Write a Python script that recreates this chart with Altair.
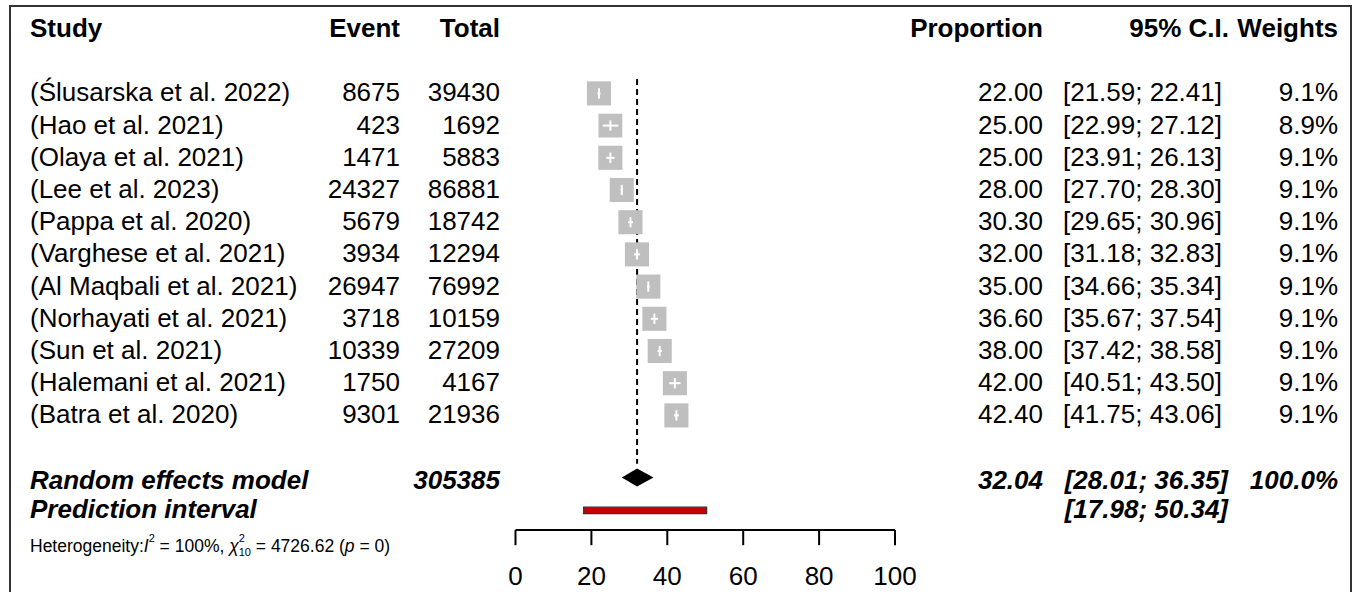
import altair as alt
import pandas as pd

# ---- study-level data -------------------------------------------------------
studies = [
    "(Ślusarska et al. 2022)", "(Hao et al. 2021)", "(Olaya et al. 2021)",
    "(Lee et al. 2023)", "(Pappa et al. 2020)", "(Varghese et al. 2021)",
    "(Al Maqbali et al. 2021)", "(Norhayati et al. 2021)", "(Sun et al. 2021)",
    "(Halemani et al. 2021)", "(Batra et al. 2020)",
]
events = [8675, 423, 1471, 24327, 5679, 3934, 26947, 3718, 10339, 1750, 9301]
totals = [39430, 1692, 5883, 86881, 18742, 12294, 76992, 10159, 27209, 4167, 21936]
props = [22.00, 25.00, 25.00, 28.00, 30.30, 32.00, 35.00, 36.60, 38.00, 42.00, 42.40]
ci_lo = [21.59, 22.99, 23.91, 27.70, 29.65, 31.18, 34.66, 35.67, 37.42, 40.51, 41.75]
ci_hi = [22.41, 27.12, 26.13, 28.30, 30.96, 32.83, 35.34, 37.54, 38.58, 43.50, 43.06]
weights = [9.1, 8.9, 9.1, 9.1, 9.1, 9.1, 9.1, 9.1, 9.1, 9.1, 9.1]

# ---- pooled estimates -------------------------------------------------------
re_total = 305385
re_est, re_lo, re_hi = 32.04, 28.01, 36.35
pi_lo, pi_hi = 17.98, 50.34
i2, q_df, q_stat, q_p = 100, 10, 4726.62, 0
axis_ticks = [0, 20, 40, 60, 80, 100]

# ---- row layout (in text lines) --------------------------------------------
LINE_HEADER = 0.0
study_lines = [2 + i for i in range(len(studies))]
LINE_RE = 14.04
LINE_DIAMOND = 13.93
LINE_PI = 14.95
LINE_AXIS = 15.56
LINE_TICK_END = 16.03
LINE_TICK_LABEL = 17.02
LINE_HET = 16.1

FONT = "Liberation Sans"
FS = 26
W, H = 1356, 592

xscale = alt.Scale(domain=[0, 100], range=[515.5, 895], nice=False, zero=False)
yscale = alt.Scale(domain=[0, 17], range=[29, 29 + 17 * 32.2], nice=False, zero=False)


def X(field):
    return alt.X(field, type="quantitative", scale=xscale, axis=None)


def Y(field):
    return alt.Y(field, type="quantitative", scale=yscale, axis=None)


rows = pd.DataFrame({
    "line": study_lines,
    "study": studies,
    "event": [str(v) for v in events],
    "total": [str(v) for v in totals],
    "prop": props,
    "lo": ci_lo,
    "hi": ci_hi,
    "weight": weights,
    "prop_txt": [f"{v:.2f}" for v in props],
    "ci_txt": [f"[{a:.2f}; {b:.2f}]" for a, b in zip(ci_lo, ci_hi)],
    "w_txt": [f"{v:.1f}%" for v in weights],
})
rows["tick_top"] = rows["line"] - 0.16
rows["tick_bot"] = rows["line"] + 0.16

base = alt.Chart(rows)


def text_col(data, field, xpx, align, weight="normal", style="normal", size=FS):
    return alt.Chart(data).mark_text(
        align=align, baseline="middle", font=FONT, fontSize=size,
        fontWeight=weight, fontStyle=style, color="#000000",
    ).encode(x=alt.value(xpx), y=Y("line"), text=alt.Text(f"{field}:N"))


# header row
header = pd.DataFrame({
    "line": [LINE_HEADER] * 6,
    "txt": ["Study", "Event", "Total", "Proportion", "95% C.I.", "Weights"],
})
head_layers = [
    text_col(header.iloc[[0]], "txt", 30, "left", weight="bold"),
    text_col(header.iloc[[1]], "txt", 400, "right", weight="bold"),
    text_col(header.iloc[[2]], "txt", 500, "right", weight="bold"),
    text_col(header.iloc[[3]], "txt", 1043, "right", weight="bold"),
    text_col(header.iloc[[4]], "txt", 1229, "right", weight="bold"),
    text_col(header.iloc[[5]], "txt", 1338, "right", weight="bold"),
]

body_layers = [
    text_col(rows, "study", 30, "left"),
    text_col(rows, "event", 400, "right"),
    text_col(rows, "total", 500, "right"),
    text_col(rows, "prop_txt", 1043, "right"),
    text_col(rows, "ci_txt", 1222, "right"),
    text_col(rows, "w_txt", 1338, "right"),
]

summary = pd.DataFrame({
    "line": [LINE_RE, LINE_PI],
    "label": ["Random effects model", "Prediction interval"],
    "total": [str(re_total), ""],
    "prop_txt": [f"{re_est:.2f}", ""],
    "ci_txt": [f"[{re_lo:.2f}; {re_hi:.2f}]", f"[{pi_lo:.2f}; {pi_hi:.2f}]"],
    "w_txt": ["100.0%", ""],
})
sum_layers = [
    text_col(summary, "label", 30, "left", weight="bold", style="italic"),
    text_col(summary, "total", 500, "right", weight="bold", style="italic"),
    text_col(summary, "prop_txt", 1043, "right", weight="bold", style="italic"),
    text_col(summary, "ci_txt", 1228, "right", weight="bold", style="italic"),
    text_col(summary, "w_txt", 1338, "right", weight="bold", style="italic"),
]

# dashed reference line at the pooled estimate
ref = alt.Chart(pd.DataFrame({"x": [re_est], "y1": [1.55], "y2": [13.5]})).mark_rule(
    color="#000000", strokeWidth=2, strokeDash=[6, 4]
).encode(x=X("x"), y=Y("y1"), y2="y2")

squares = base.mark_square(color="#bfbfbf", opacity=1).encode(
    x=X("prop"), y=Y("line"),
    size=alt.Size("weight:Q", scale=alt.Scale(domain=[0, 9.1], range=[0, 580]), legend=None),
)
ci_lines = base.mark_rule(color="#ffffff", strokeWidth=2).encode(x=X("lo"), x2="hi", y=Y("line"))
ci_mid = base.mark_rule(color="#ffffff", strokeWidth=2).encode(x=X("prop"), y=Y("tick_top"), y2="tick_bot")

dh = 0.28
diamond = alt.Chart(pd.DataFrame({
    "x": [re_lo, re_est, re_hi],
    "y": [LINE_DIAMOND, LINE_DIAMOND - dh, LINE_DIAMOND],
    "y2": [LINE_DIAMOND, LINE_DIAMOND + dh, LINE_DIAMOND],
})).mark_area(color="#000000", orient="vertical").encode(x=X("x"), y=Y("y"), y2="y2")

pred = alt.Chart(pd.DataFrame({"lo": [pi_lo], "hi": [pi_hi],
                               "t": [LINE_PI - 0.1], "b": [LINE_PI + 0.1]})).mark_rect(
    fill="#c80000", stroke="#333333", strokeWidth=1.4
).encode(x=X("lo"), x2="hi", y=Y("t"), y2="b")

# x axis drawn as rules and labels
ticks = pd.DataFrame({"v": axis_ticks, "t": [LINE_AXIS] * 6, "b": [LINE_TICK_END] * 6,
                      "lab_line": [LINE_TICK_LABEL] * 6, "lab": [str(v) for v in axis_ticks]})
axis_line = alt.Chart(pd.DataFrame({"a": [0], "b": [100], "y": [LINE_AXIS]})).mark_rule(
    color="#000000", strokeWidth=2).encode(x=X("a"), x2="b", y=Y("y"))
axis_ticks_m = alt.Chart(ticks).mark_rule(color="#000000", strokeWidth=2).encode(
    x=X("v"), y=Y("t"), y2="b")
axis_labels = alt.Chart(ticks).mark_text(
    font=FONT, fontSize=FS, align="center", baseline="middle", color="#000000"
).encode(x=X("v"), y=Y("lab_line"), text="lab:N")

# heterogeneity statement, assembled piece by piece for italics and scripts
ARIAL_W = {
    "H": 722, "e": 556, "t": 278, "r": 333, "o": 556, "g": 556, "n": 556, "i": 222,
    "y": 500, ":": 278, "I": 278, " ": 278, "=": 584, "0": 556, "1": 556, "2": 556,
    "4": 556, "6": 556, "7": 556, ".": 278, "%": 889, ",": 278, "(": 333, ")": 333,
    "p": 556, "χ": 540,
}


def text_width(s, size):
    return sum(ARIAL_W.get(c, 556) for c in s) * size / 1000.0


HS, SS = 17.5, 11
pieces = [  # text, size, italic, dy, advances
    ("Heterogeneity:", HS, False, 0, True),
    ("I", HS, True, 0, True),
    ("2", SS, False, -8, True),
    (f" = {i2}%, ", HS, False, 0, True),
    ("χ", HS, True, 0, True),
    ("2", SS, False, -8, False),
    (str(q_df), SS, False, 6, True),
    (f" = {q_stat:.2f} (", HS, False, 0, True),
    ("p", HS, True, 0, True),
    (f" = {q_p})", HS, False, 0, True),
]
het_layers = []
cursor = 30.0
for txt, size, ital, dy, adv in pieces:
    # leading blanks are collapsed in SVG text, so they become an x offset
    body = txt.lstrip(" ")
    lead = text_width(txt[: len(txt) - len(body)], size)
    d = pd.DataFrame({"line": [LINE_HET], "txt": [body]})
    het_layers.append(
        alt.Chart(d).mark_text(
            align="left", baseline="middle", font=FONT, fontSize=size,
            fontStyle="italic" if ital else "normal", dy=dy, color="#000000",
        ).encode(x=alt.value(round(cursor + lead, 1)), y=Y("line"), text="txt:N")
    )
    if adv:
        cursor += text_width(txt, size)

frame = alt.Chart(pd.DataFrame({"k": [0]})).mark_rect(
    fill=None, stroke="#333333", strokeWidth=2
).encode(x=alt.value(10), x2=alt.value(1351), y=alt.value(6), y2=alt.value(620))

chart = alt.layer(
    frame, ref, squares, ci_lines, ci_mid, diamond, pred,
    axis_line, axis_ticks_m, axis_labels,
    *head_layers, *body_layers, *sum_layers, *het_layers,
).properties(
    width=W, height=H, padding=0, autosize=alt.AutoSizeParams(type="none"),
    background="#ffffff",
).configure_view(stroke=None)

chart.save("out.html", embed_options={"renderer": "svg", "actions": False})
